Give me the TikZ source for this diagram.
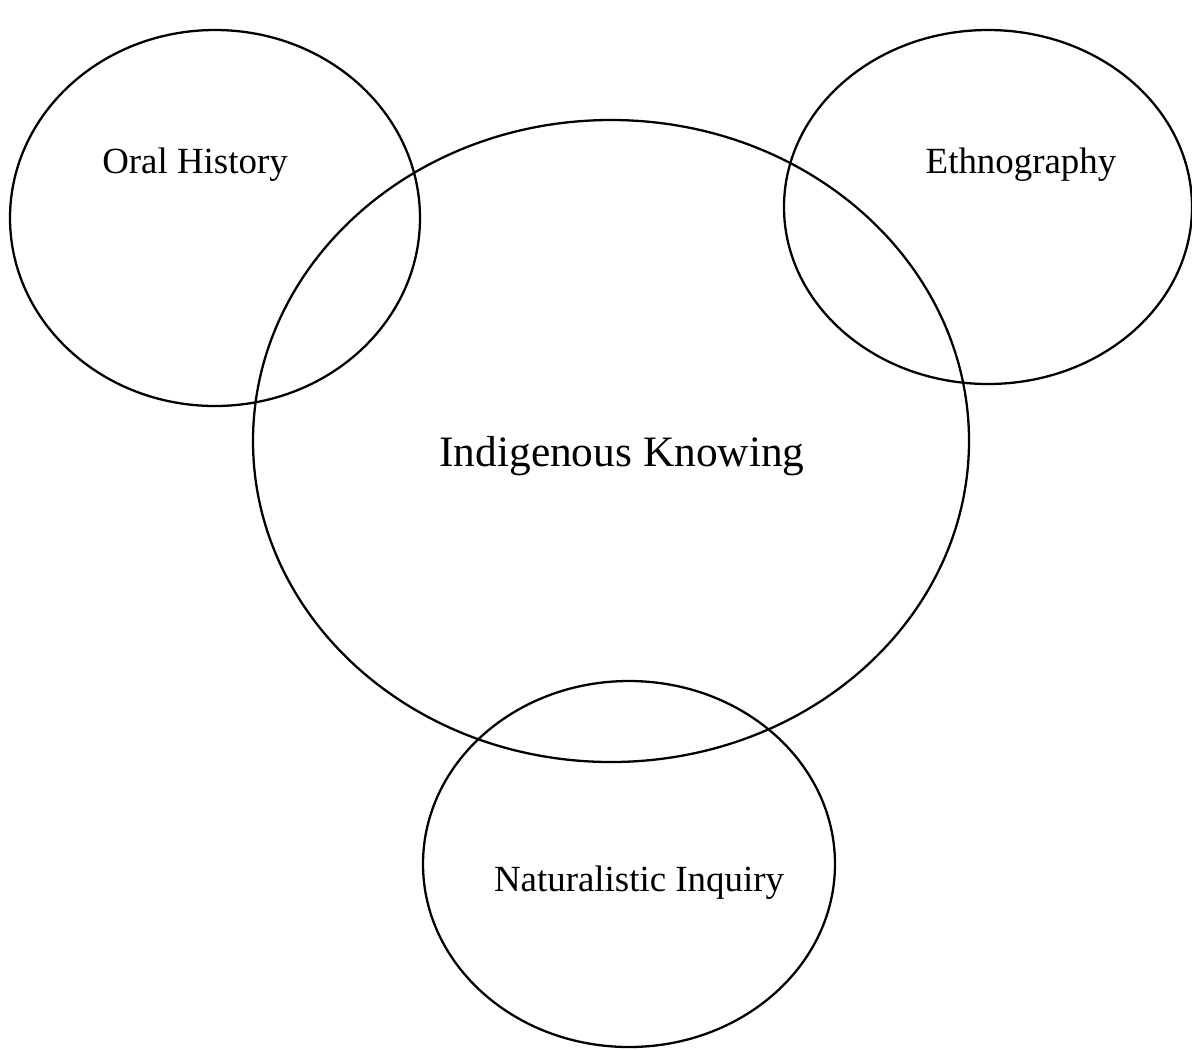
\documentclass[tikz,border=0pt]{standalone}
\usepackage{fontspec}
\setmainfont{Liberation Serif}
\begin{document}
\begin{tikzpicture}[x=0.02cm,y=-0.02cm,
  ring/.style={draw=black,line width=1.3pt},
  lbl/.style={font=\fontsize{21}{25}\selectfont,inner sep=0pt},
  biglbl/.style={font=\fontsize{24.7}{29}\selectfont,inner sep=0pt}]
\useasboundingbox (0,0) rectangle (1192,1049);
% four overlapping ellipses
\draw[ring] (215,218) ellipse [x radius=205, y radius=188];
\draw[ring] (988,207) ellipse [x radius=204, y radius=177];
\draw[ring] (611,441) ellipse [x radius=358, y radius=321];
\draw[ring] (629,864) ellipse [x radius=206, y radius=183];
% labels
\node[lbl] (oral) at (195,165) {Oral History};
\node[lbl] (ethno) at (1021,165) {Ethnography};
\node[biglbl] (ik) at (622,456) {Indigenous Knowing};
\node[lbl] (nat) at (639,883) {Naturalistic Inquiry};
\end{tikzpicture}
\end{document}
